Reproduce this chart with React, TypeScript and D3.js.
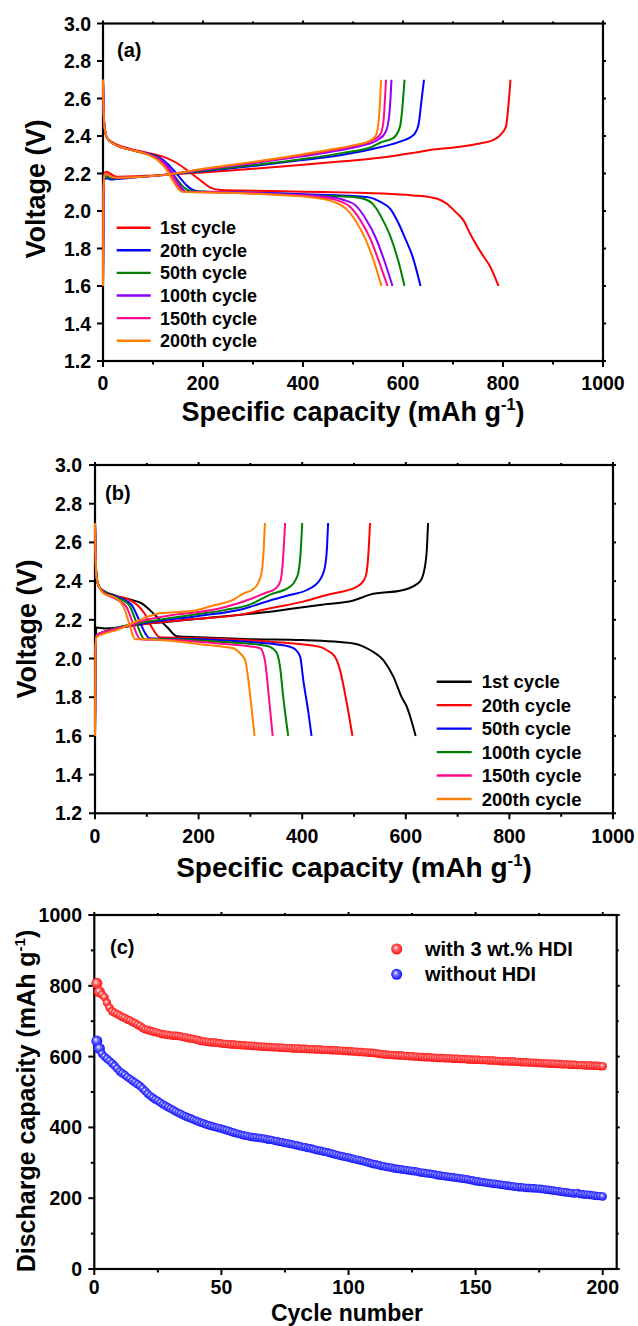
import React from "react";
import * as d3 from "d3";

type P = [number, number];

// ---------- Panel (a): with 3 wt.% HDI ----------
const A_LABELS = ["1st cycle", "20th cycle", "50th cycle", "100th cycle", "150th cycle", "200th cycle"];
const A_COLORS = ["#ff0000", "#0000ff", "#008000", "#8a00ff", "#ff0a8c", "#ff8000"];

const aDis1: P[] = [[0,2.7],[1,2.56],[3,2.45],[8,2.39],[20,2.365],[50,2.335],[90,2.31],[120,2.29],[145,2.26],[167,2.22],[194,2.165],[215,2.125],[235,2.112],[300,2.108],[400,2.103],[500,2.098],[560,2.093],[620,2.083],[654,2.074],[670,2.064],[687,2.04],[707,1.99],[721,1.95],[734,1.88],[757,1.774],[775,1.70],[791,1.6]];
const aDis20: P[] = [[0,2.7],[1,2.56],[3,2.45],[8,2.39],[20,2.36],[50,2.33],[90,2.305],[110,2.29],[130,2.25],[150,2.19],[170,2.13],[188,2.105],[250,2.1],[350,2.095],[450,2.085],[500,2.08],[530,2.074],[554,2.05],[575,2.01],[590,1.94],[605,1.85],[620,1.75],[635,1.6]];
const aDis50: P[] = [[0,2.7],[1,2.56],[3,2.45],[8,2.39],[20,2.36],[50,2.33],[90,2.302],[108,2.29],[128,2.24],[145,2.18],[162,2.125],[178,2.105],[250,2.1],[350,2.09],[430,2.082],[500,2.075],[527,2.06],[545,2.02],[556,1.97],[574,1.87],[592,1.72],[603,1.6]];
const aDis100: P[] = [[0,2.7],[1,2.56],[3,2.45],[8,2.39],[20,2.36],[50,2.33],[90,2.303],[118,2.27],[135,2.22],[148,2.16],[158,2.12],[166,2.102],[250,2.1],[350,2.09],[440,2.078],[480,2.06],[505,2.03],[525,1.96],[545,1.86],[562,1.74],[579,1.6]];
const aDis150: P[] = [[0,2.7],[1,2.56],[3,2.45],[8,2.39],[20,2.36],[50,2.33],[90,2.302],[114,2.27],[131,2.22],[144,2.16],[154,2.12],[162,2.102],[250,2.098],[350,2.088],[430,2.075],[470,2.055],[495,2.02],[515,1.95],[535,1.85],[552,1.73],[569,1.6]];
const aDis200: P[] = [[0,2.7],[1,2.56],[3,2.45],[8,2.39],[20,2.36],[50,2.33],[90,2.3],[110,2.27],[127,2.22],[140,2.16],[150,2.12],[158,2.102],[250,2.097],[350,2.085],[420,2.072],[460,2.05],[487,2.01],[507,1.94],[525,1.85],[542,1.73],[557,1.6]];

const aCh1: P[] = [[0,1.6],[1,2.1],[3,2.2],[7,2.21],[14,2.2],[27,2.183],[100,2.19],[200,2.205],[300,2.225],[394,2.245],[480,2.265],[554,2.284],[620,2.31],[654,2.325],[714,2.343],[754,2.36],[780,2.378],[791,2.396],[806,2.45],[810,2.54],[815,2.7]];
const aCh20: P[] = [[0,1.6],[1,2.1],[3,2.17],[8,2.175],[15,2.168],[27,2.17],[60,2.178],[114,2.19],[200,2.212],[300,2.24],[394,2.27],[480,2.3],[554,2.34],[594,2.37],[621,2.405],[631,2.46],[637,2.59],[642,2.7]];
const aCh50: P[] = [[0,1.6],[1,2.1],[3,2.18],[8,2.185],[15,2.175],[27,2.175],[60,2.18],[114,2.19],[200,2.215],[300,2.245],[394,2.275],[480,2.31],[540,2.345],[554,2.364],[581,2.39],[594,2.45],[600,2.59],[603,2.7]];
const aCh100: P[] = [[0,1.6],[1,2.1],[3,2.19],[7,2.2],[15,2.185],[27,2.178],[60,2.18],[114,2.19],[200,2.22],[300,2.255],[394,2.29],[470,2.322],[520,2.35],[550,2.38],[565,2.42],[572,2.5],[575,2.6],[577,2.7]];
const aCh150: P[] = [[0,1.6],[1,2.1],[3,2.19],[7,2.2],[15,2.185],[27,2.178],[60,2.18],[114,2.19],[200,2.222],[300,2.258],[394,2.295],[460,2.325],[510,2.352],[540,2.378],[555,2.41],[561,2.48],[564,2.6],[566,2.7]];
const aCh200: P[] = [[0,1.6],[1,2.1],[3,2.19],[7,2.2],[15,2.185],[27,2.178],[60,2.18],[114,2.19],[200,2.225],[300,2.262],[394,2.3],[450,2.325],[500,2.35],[530,2.37],[545,2.4],[551,2.47],[554,2.58],[556,2.7]];

const A_DIS = [aDis1, aDis20, aDis50, aDis100, aDis150, aDis200];
const A_CH = [aCh1, aCh20, aCh50, aCh100, aCh150, aCh200];

// ---------- Panel (b): without HDI ----------
const B_LABELS = ["1st cycle", "20th cycle", "50th cycle", "100th cycle", "150th cycle", "200th cycle"];
const B_COLORS = ["#000000", "#ff0000", "#0000ff", "#008000", "#ff0a8c", "#ff8000"];

const bDis1: P[] = [[0,2.7],[1,2.55],[3,2.42],[8,2.37],[20,2.345],[40,2.325],[74,2.3],[90,2.285],[106,2.25],[125,2.2],[140,2.16],[158,2.115],[200,2.11],[300,2.1],[400,2.095],[499,2.078],[531,2.044],[557,1.99],[576,1.906],[592,1.8],[602,1.75],[619,1.6]];
const bDis20: P[] = [[0,2.7],[1,2.55],[3,2.42],[8,2.37],[20,2.34],[40,2.32],[60,2.31],[80,2.28],[95,2.235],[110,2.16],[125,2.11],[200,2.105],[338,2.087],[434,2.06],[447,2.044],[463,2.01],[473,1.94],[486,1.77],[497,1.6]];
const bDis50: P[] = [[0,2.7],[1,2.55],[3,2.42],[8,2.37],[20,2.34],[40,2.32],[55,2.305],[70,2.28],[85,2.2],[97,2.13],[105,2.105],[200,2.1],[300,2.085],[360,2.07],[383,2.053],[396,2.01],[402,1.89],[412,1.72],[418,1.6]];
const bDis100: P[] = [[0,2.7],[1,2.55],[3,2.42],[8,2.37],[20,2.34],[40,2.315],[50,2.305],[65,2.28],[78,2.2],[88,2.13],[95,2.1],[150,2.1],[250,2.085],[320,2.07],[338,2.06],[351,2.028],[357,1.96],[364,1.786],[373,1.6]];
const bDis150: P[] = [[0,2.7],[1,2.55],[3,2.42],[8,2.37],[20,2.335],[35,2.315],[45,2.3],[60,2.27],[72,2.19],[80,2.13],[88,2.1],[150,2.095],[250,2.075],[300,2.062],[319,2.053],[328,1.99],[335,1.82],[343,1.6]];
const bDis200: P[] = [[0,2.7],[1,2.55],[3,2.42],[8,2.37],[20,2.33],[35,2.32],[55,2.268],[68,2.164],[77,2.1],[100,2.1],[150,2.09],[200,2.075],[250,2.06],[267,2.053],[280,2.027],[290,1.99],[296,1.89],[302,1.75],[308,1.6]];

const bCh1: P[] = [[0,1.6],[1,2.08],[3,2.16],[20,2.155],[100,2.18],[200,2.205],[338,2.242],[434,2.277],[499,2.3],[531,2.33],[595,2.354],[627,2.397],[637,2.475],[641,2.58],[643,2.7]];
const bCh20: P[] = [[0,1.6],[1,2.05],[3,2.12],[20,2.14],[100,2.18],[200,2.205],[284,2.228],[338,2.26],[402,2.294],[447,2.328],[505,2.37],[518,2.4],[524,2.44],[528,2.55],[531,2.7]];
const bCh50: P[] = [[0,1.6],[1,2.05],[3,2.12],[20,2.14],[100,2.185],[200,2.22],[284,2.255],[338,2.3],[376,2.328],[409,2.354],[434,2.406],[444,2.475],[448,2.58],[450,2.7]];
const bCh100: P[] = [[0,1.6],[1,2.05],[3,2.12],[20,2.14],[100,2.19],[200,2.23],[250,2.25],[300,2.28],[338,2.33],[376,2.37],[388,2.41],[393,2.45],[397,2.55],[400,2.7]];
const bCh150: P[] = [[0,1.6],[1,2.05],[3,2.12],[20,2.14],[50,2.16],[100,2.2],[150,2.225],[200,2.24],[250,2.265],[303,2.31],[330,2.34],[348,2.36],[358,2.4],[362,2.48],[365,2.6],[367,2.7]];
const bCh200: P[] = [[0,1.6],[1,2.05],[3,2.11],[20,2.13],[42,2.147],[74,2.185],[125,2.234],[187,2.245],[230,2.275],[264,2.3],[290,2.34],[303,2.354],[315,2.39],[322,2.45],[326,2.58],[328,2.7]];

const B_DIS = [bDis1, bDis20, bDis50, bDis100, bDis150, bDis200];
const B_CH = [bCh1, bCh20, bCh50, bCh100, bCh150, bCh200];

// ---------- Panel (c): cycling ----------
const C_LABELS = ["with 3 wt.% HDI", "without HDI"];
const C_COLORS = ["#ff0000", "#0000ff"];
const withHDI = [
807,783,775,768,752,738,728,724,720,716,
712,709,705,702,698,694,690,686,681,677,
675,673,671,669,667,665,663,662,661,660,
659,659,658,657,655,654,652,651,650,648,
646,644,643,642,641,640,640,639,638,637,
636,636,635,634,634,633,633,632,632,631,
631,630,630,629,629,628,628,627,627,626,
626,626,625,625,624,624,624,623,623,623,
622,622,622,621,621,621,620,620,620,619,
619,619,618,618,618,617,617,616,616,615,
615,614,614,613,613,612,612,611,611,610,
609,608,607,606,606,605,605,604,604,603,
603,602,602,601,601,600,600,599,599,598,
598,598,597,597,596,596,596,595,595,595,
594,594,594,593,593,593,592,592,591,591,
591,590,590,590,589,589,589,588,588,587,
587,587,586,586,586,585,585,584,584,584,
583,583,583,582,582,581,581,581,580,580,
580,579,579,578,578,578,577,577,577,576,
576,576,575,575,575,574,574,574,573,573];
const withoutHDI = [
644,623,608,600,594,588,581,574,566,558,
553,548,542,537,532,527,522,517,510,503,
495,489,484,479,475,470,465,461,457,453,
449,445,441,438,434,431,428,425,422,419,
416,413,411,408,406,404,402,400,398,396,
394,392,390,387,385,383,381,379,377,376,
374,373,372,371,370,369,368,366,365,364,
362,361,359,358,356,355,353,352,350,349,
347,345,344,342,341,339,337,335,334,332,
331,329,327,325,323,321,319,318,316,315,
313,311,309,308,306,304,302,300,298,296,
295,293,291,290,288,287,286,284,283,282,
281,280,279,278,277,276,275,273,272,271,
270,269,268,267,265,264,263,262,261,260,
259,258,257,256,255,254,253,251,250,248,
247,246,245,244,243,242,241,240,239,238,
237,236,235,234,233,232,231,231,230,229,
229,228,228,227,227,226,225,224,223,222,
221,220,219,218,217,216,215,214,213,215,
212,211,210,210,209,208,207,206,206,205];
const cycles = d3.range(1, withHDI.length + 1);

const V_TICKS = [1.2, 1.4, 1.6, 1.8, 2.0, 2.2, 2.4, 2.6, 2.8, 3.0];
const CAP_TICKS = [0, 200, 400, 600, 800, 1000];
const CAP_MINOR = [100, 300, 500, 700, 900];
const C_X_TICKS = [0, 50, 100, 150, 200];
const C_X_MINOR = [25, 75, 125, 175];
const C_Y_TICKS = [0, 200, 400, 600, 800, 1000];
const C_Y_MINOR = [100, 300, 500, 700, 900];

const FONT = "'Liberation Sans', Arial, Helvetica, sans-serif";

type Lin = d3.ScaleLinear<number, number>;

function Frame(props: {
  x: Lin; y: Lin; xMajor: number[]; xMinor: number[]; yMajor: number[]; yMinor: number[];
  xFmt: (v: number) => string; yFmt: (v: number) => string;
  xLabelBase: number; yLabelRight: number; tickFont: number;
}) {
  const { x, y, xMajor, xMinor, yMajor, yMinor, xFmt, yFmt, xLabelBase, yLabelRight, tickFont } = props;
  const [x0, x1] = x.range();
  const [yb, yt] = y.range();
  const els: React.ReactNode[] = [];
  const M = 6, m = 3.5, Mo = 3, mo = 2;
  xMajor.forEach((v, i) => {
    const px = x(v);
    els.push(<line key={"xb" + i} x1={px} x2={px} y1={yb} y2={yb + M} />);
    els.push(<line key={"xt" + i} x1={px} x2={px} y1={yt} y2={yt - Mo} />);
  });
  xMinor.forEach((v, i) => {
    const px = x(v);
    els.push(<line key={"xbm" + i} x1={px} x2={px} y1={yb} y2={yb + m} />);
    els.push(<line key={"xtm" + i} x1={px} x2={px} y1={yt} y2={yt - mo} />);
  });
  yMajor.forEach((v, i) => {
    const py = y(v);
    els.push(<line key={"yl" + i} x1={x0} x2={x0 - M} y1={py} y2={py} />);
    els.push(<line key={"yr" + i} x1={x1} x2={x1 + Mo} y1={py} y2={py} />);
  });
  yMinor.forEach((v, i) => {
    const py = y(v);
    els.push(<line key={"ylm" + i} x1={x0} x2={x0 - m} y1={py} y2={py} />);
    els.push(<line key={"yrm" + i} x1={x1} x2={x1 + mo} y1={py} y2={py} />);
  });
  return (
    <g>
      <g stroke="#000" strokeWidth={2}>{els}</g>
      <rect x={x0} y={yt} width={x1 - x0} height={yb - yt} fill="none" stroke="#000" strokeWidth={2.2} />
      <g fontFamily={FONT} fontWeight="bold" fontSize={tickFont} fill="#000">
        {xMajor.map((v, i) => (
          <text key={"xl" + i} x={x(v)} y={xLabelBase} textAnchor="middle">{xFmt(v)}</text>
        ))}
        {yMajor.map((v, i) => (
          <text key={"yl" + i} x={yLabelRight} y={y(v) + tickFont * 0.36} textAnchor="end">{yFmt(v)}</text>
        ))}
      </g>
    </g>
  );
}

function CapTitle({ cx, base, size }: { cx: number; base: number; size: number }) {
  return (
    <text x={cx} y={base} textAnchor="middle" fontFamily={FONT} fontWeight="bold" fontSize={size}>
      Specific capacity (mAh g<tspan dy={-size * 0.4} fontSize={size * 0.6}>-1</tspan><tspan dy={size * 0.4}>)</tspan>
    </text>
  );
}

function VTitle({ x, cy, size, children }: { x: number; cy: number; size: number; children: React.ReactNode }) {
  return (
    <text transform={`translate(${x},${cy}) rotate(-90)`} textAnchor="middle" fontFamily={FONT} fontWeight="bold" fontSize={size}>
      {children}
    </text>
  );
}

export default function App() {
  // scales
  const xA = d3.scaleLinear().domain([0, 1000]).range([103, 603]);
  const yA = d3.scaleLinear().domain([1.2, 3.0]).range([361, 23.5]);
  const xB = d3.scaleLinear().domain([0, 1000]).range([95, 613]);
  const yB = d3.scaleLinear().domain([1.2, 3.0]).range([813.3, 465]);
  const xC = d3.scaleLinear().domain([0, 205.5]).range([94.3, 616.7]);
  const yC = d3.scaleLinear().domain([0, 1000]).range([1269, 915]);

  const lineA = d3.line<P>().x((d) => xA(d[0])).y((d) => yA(d[1])).curve(d3.curveMonotoneX);
  const lineB = d3.line<P>().x((d) => xB(d[0])).y((d) => yB(d[1])).curve(d3.curveMonotoneX);

  const fmt1 = d3.format(".1f");
  const fmt0 = d3.format("d");

  const order = [0, 1, 2, 3, 4, 5];

  return (
    <svg width={638} height={1326} style={{ position: "absolute", left: 0, top: 0, background: "#fff" }}>
      <defs>
        {C_COLORS.map((c, i) => (
          <radialGradient key={i} id={"ball" + i} cx="0.5" cy="0.5" r="0.55" fx="0.38" fy="0.35">
            <stop offset="0%" stopColor="#ffffff" />
            <stop offset="35%" stopColor={d3.interpolateRgb("#ffffff", c)(0.55)} />
            <stop offset="100%" stopColor={c} />
          </radialGradient>
        ))}
      </defs>
      <rect x={0} y={0} width={638} height={1326} fill="#fff" />

      {/* ---------------- (a) ---------------- */}
      <Frame x={xA} y={yA} xMajor={CAP_TICKS} xMinor={CAP_MINOR} yMajor={V_TICKS} yMinor={[]}
        xFmt={fmt0} yFmt={fmt1} xLabelBase={390} yLabelRight={91} tickFont={19.5} />
      <g fill="none" strokeWidth={2} strokeLinejoin="round">
        {order.map((i) => (
          <g key={i} stroke={A_COLORS[i]}>
            <path d={lineA(A_DIS[i]) || ""} />
            <path d={lineA(A_CH[i]) || ""} />
          </g>
        ))}
      </g>
      <text x={117} y={57} fontFamily={FONT} fontWeight="bold" fontSize={20}>(a)</text>
      <g fontFamily={FONT} fontWeight="bold" fontSize={18}>
        {A_LABELS.map((l, i) => {
          const cy = 227.7 + i * 22.6;
          return (
            <g key={i}>
              <line x1={116.7} x2={150.7} y1={cy} y2={cy} stroke={A_COLORS[i]} strokeWidth={2.4} />
              <text x={160} y={cy + 6.4}>{l}</text>
            </g>
          );
        })}
      </g>
      <CapTitle cx={353} base={421} size={27} />
      <VTitle x={45} cy={189} size={27}>Voltage (V)</VTitle>

      {/* ---------------- (b) ---------------- */}
      <Frame x={xB} y={yB} xMajor={CAP_TICKS} xMinor={CAP_MINOR} yMajor={V_TICKS} yMinor={[]}
        xFmt={fmt0} yFmt={fmt1} xLabelBase={843} yLabelRight={82} tickFont={19.5} />
      <g fill="none" strokeWidth={2} strokeLinejoin="round">
        {order.map((i) => (
          <g key={i} stroke={B_COLORS[i]}>
            <path d={lineB(B_DIS[i]) || ""} />
            <path d={lineB(B_CH[i]) || ""} />
          </g>
        ))}
      </g>
      <text x={105} y={500} fontFamily={FONT} fontWeight="bold" fontSize={20}>(b)</text>
      <g fontFamily={FONT} fontWeight="bold" fontSize={18.5}>
        {B_LABELS.map((l, i) => {
          const cy = 681.7 + i * 23.46;
          return (
            <g key={i}>
              <line x1={436.7} x2={471.7} y1={cy} y2={cy} stroke={B_COLORS[i]} strokeWidth={2.4} />
              <text x={481.7} y={cy + 6.6}>{l}</text>
            </g>
          );
        })}
      </g>
      <CapTitle cx={354} base={877} size={28} />
      <VTitle x={36} cy={629} size={27}>Voltage (V)</VTitle>

      {/* ---------------- (c) ---------------- */}
      <Frame x={xC} y={yC} xMajor={C_X_TICKS} xMinor={C_X_MINOR} yMajor={C_Y_TICKS} yMinor={C_Y_MINOR}
        xFmt={fmt0} yFmt={fmt0} xLabelBase={1294} yLabelRight={82} tickFont={19.5} />
      <g>
        {cycles.map((c, i) => (
          <circle key={"r" + i} cx={xC(c)} cy={yC(withHDI[i])} r={i < 2 ? 5.5 : 4.2} fill="url(#ball0)" />
        ))}
        {cycles.map((c, i) => (
          <circle key={"b" + i} cx={xC(c)} cy={yC(withoutHDI[i])} r={i < 2 ? 5.5 : 4.2} fill="url(#ball1)" />
        ))}
      </g>
      <text x={110} y={954} fontFamily={FONT} fontWeight="bold" fontSize={20}>(c)</text>
      <g fontFamily={FONT} fontWeight="bold" fontSize={20}>
        {C_LABELS.map((l, i) => {
          const cy = 949 + i * 25.3;
          return (
            <g key={i}>
              <circle cx={396.7} cy={cy} r={5.5} fill={`url(#ball${i})`} />
              <text x={425} y={cy + 7}>{l}</text>
            </g>
          );
        })}
      </g>
      <text x={347} y={1320.5} textAnchor="middle" fontFamily={FONT} fontWeight="bold" fontSize={23}>Cycle number</text>
      <VTitle x={35} cy={1101} size={25}>
        Discharge capacity (mAh g<tspan dy={-10} fontSize={15}>-1</tspan><tspan dy={10}>)</tspan>
      </VTitle>
    </svg>
  );
}
